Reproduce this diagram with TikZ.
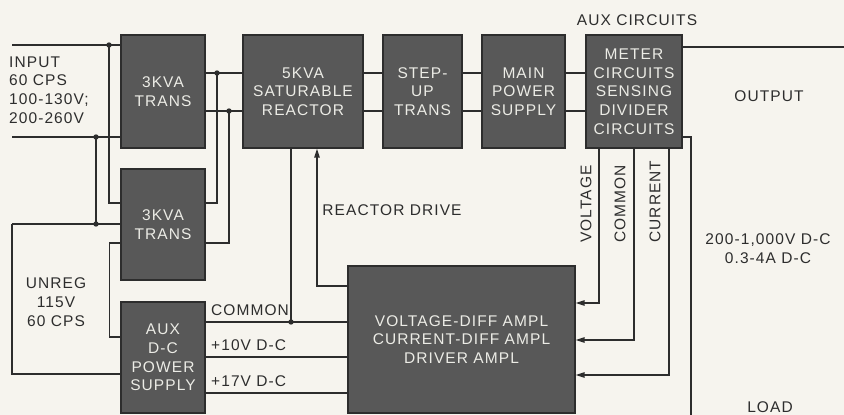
\documentclass[tikz,border=0pt]{standalone}
\usepackage{fontspec}
\setmainfont{Liberation Sans}[LetterSpace=7]
\usetikzlibrary{arrows.meta}
\definecolor{paper}{RGB}{246,244,238}
\definecolor{boxfill}{RGB}{88,88,88}
\definecolor{ink}{RGB}{45,45,45}
\definecolor{boxtext}{RGB}{236,236,230}
\newcommand\labfont{\fontsize{15.5pt}{18.7pt}\selectfont}
\begin{document}
\begin{tikzpicture}[x=1pt,y=-1pt,
  blk/.style={draw=ink, line width=1.2pt, fill=boxfill, text=boxtext, font=\labfont, align=center, inner sep=0pt},
  lbl/.style={font=\labfont, text=ink, inner sep=0pt},
  wire/.style={draw=ink, line width=1.3pt},
  arr/.style={wire, -{Triangle[length=9pt,width=5.5pt]}}]
\fill[paper] (0,0) rectangle (844,415);
\useasboundingbox (0,0) rectangle (844,415);

% blocks
\node[blk, minimum width=84pt, minimum height=113pt] (t1) at (163,91.5) {3KVA\\TRANS};
\node[blk, minimum width=120pt, minimum height=113pt] (sr) at (303,91.5) {5KVA\\SATURABLE\\REACTOR};
\node[blk, minimum width=79pt, minimum height=113pt] (su) at (422.5,91.5) {STEP-\\UP\\TRANS};
\node[blk, minimum width=83pt, minimum height=113pt] (mps) at (523.5,91.5) {MAIN\\POWER\\SUPPLY};
\node[blk, minimum width=96pt, minimum height=113pt] (mc) at (634,91.5) {METER\\CIRCUITS\\SENSING\\DIVIDER\\CIRCUITS};
\node[blk, minimum width=84pt, minimum height=111pt] (t2) at (163,224.5) {3KVA\\TRANS};
\node[blk, minimum width=84pt, minimum height=111pt] (aux) at (163,357.5) {AUX\\D-C\\POWER\\SUPPLY};
\node[blk, minimum width=227pt, minimum height=147pt] (amp) at (461.5,339.5) {VOLTAGE-DIFF AMPL\\CURRENT-DIFF AMPL\\DRIVER AMPL};

% reference levels
\foreach \y in {47,73,111,137,203,243,286,303,322,337,340,357,374,375,393}
  \coordinate (h\y) at (0,\y);
\foreach \x in {291,317,599,634,669}
  \coordinate (v\x) at (\x,0);

% junctions and free ends
\coordinate (inA) at (12,45);
\coordinate (inB) at (12,137);
\coordinate (jA) at (109,45);
\coordinate (jB) at (96,137);
\coordinate (jC) at (96,224);
\coordinate (uL) at (12,224);
\coordinate (jD) at (217,73);
\coordinate (jE) at (229,111);
\coordinate (jF) at (291,322);
\coordinate (outE) at (844,47);
\coordinate (loadE) at (691,420);

% input side
\draw[wire] (inA) -- (inA -| t1.west);
\draw[wire] (inB) -- (inB -| t1.west);
\draw[wire] (jA) |- (t2.west |- h203);
\draw[wire] (jB) -- (jC);
\draw[wire] (uL) -- (uL -| t2.west);
\draw[wire] (uL) |- (aux.west |- h374);
\draw[wire] (t2.west |- h243) -- ++(-11,0) |- (aux.west |- h337);

% between transformers
\draw[wire] (t1.east |- h73) -- (sr.west |- h73);
\draw[wire] (t1.east |- h111) -- (sr.west |- h111);
\draw[wire] (jD) |- (t2.east |- h203);
\draw[wire] (jE) |- (t2.east |- h243);

% main chain
\draw[wire] (sr.east |- h73) -- (su.west |- h73);
\draw[wire] (sr.east |- h111) -- (su.west |- h111);
\draw[wire] (su.east |- h73) -- (mps.west |- h73);
\draw[wire] (su.east |- h111) -- (mps.west |- h111);
\draw[wire] (mps.east |- h73) -- (mc.west |- h73);
\draw[wire] (mps.east |- h111) -- (mc.west |- h111);

% output
\draw[wire] (mc.east |- h47) -- (outE);
\draw[wire] (mc.east |- h137) -| (loadE);

% aux supply lines
\draw[wire] (sr.south -| v291) -- (jF);
\draw[wire] (aux.east |- h322) -- (amp.west |- h322);
\draw[wire] (aux.east |- h357) -- (amp.west |- h357);
\draw[wire] (aux.east |- h393) -- (amp.west |- h393);

% reactor drive
\draw[arr] (amp.west |- h286) -| (sr.south -| v317);

% feedback from meter circuits
\draw[arr] (mc.south -| v599) |- (amp.east |- h303);
\draw[arr] (mc.south -| v634) |- (amp.east |- h340);
\draw[arr] (mc.south -| v669) |- (amp.east |- h375);

% dots
\foreach \p in {jA,jB,jC,jD,jE,jF}
  \fill[ink] (\p) circle (2.7pt);

% labels
\node[lbl, align=left, anchor=west] (input) at (9,90) {INPUT\\60 CPS\\100-130V;\\200-260V};
\node[lbl, align=center] (unreg) at (56,302) {UNREG\\115V\\60 CPS};
\node[lbl] (auxc) at (637,20) {AUX CIRCUITS};
\node[lbl] (outp) at (769,96) {OUTPUT};
\node[lbl, align=center] (rating) at (768,249) {200-1,000V D-C\\0.3-4A D-C};
\node[lbl, anchor=south] (load) at (770,413) {LOAD};
\node[lbl] (rdrive) at (392,210) {REACTOR DRIVE};
\node[lbl, anchor=west] (lcom) at (211,310) {COMMON};
\node[lbl, anchor=west] (l10) at (211,345) {+10V D-C};
\node[lbl, anchor=west] (l17) at (211,381) {+17V D-C};
\node[lbl, rotate=90, anchor=west] (lvolt) at (586,243) {VOLTAGE};
\node[lbl, rotate=90, anchor=west] (lcomm) at (620,243) {COMMON};
\node[lbl, rotate=90, anchor=west] (lcurr) at (655,243) {CURRENT};
\end{tikzpicture}
\end{document}
